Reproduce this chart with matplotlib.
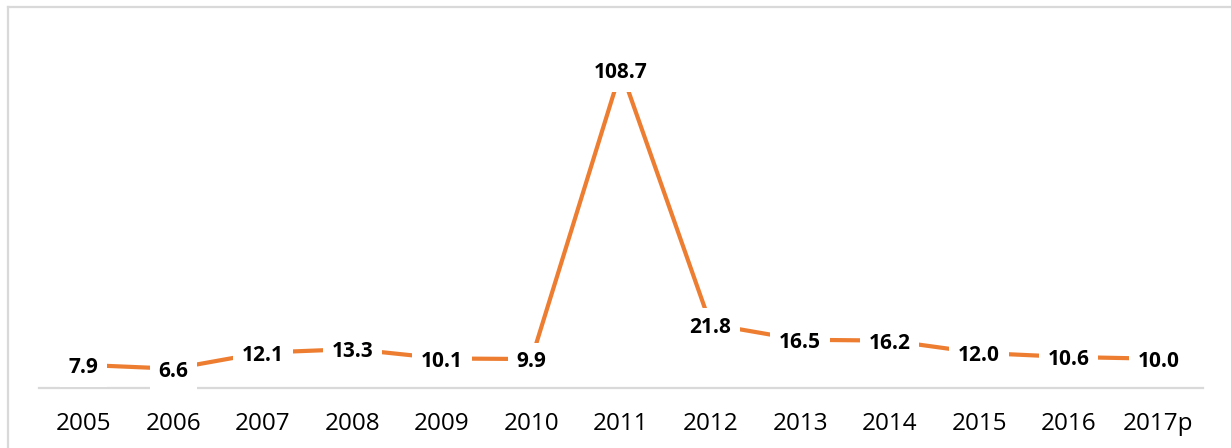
import matplotlib
matplotlib.use("Agg")
import matplotlib.pyplot as plt
from matplotlib.lines import Line2D

years = ["2005", "2006", "2007", "2008", "2009", "2010", "2011",
         "2012", "2013", "2014", "2015", "2016", "2017p"]
values = [7.9, 6.6, 12.1, 13.3, 10.1, 9.9, 108.7, 21.8, 16.5, 16.2, 12.0, 10.6, 10.0]

W, H = 1231, 448
fig = plt.figure(figsize=(W / 100, H / 100), dpi=100)
ax = fig.add_axes([39 / W, 1 - 388 / H, (1203 - 39) / W, (388 - 37) / H])

x = list(range(len(years)))
ax.plot(x, values, color="#ED7D31", linewidth=3.0, solid_capstyle="butt", zorder=2)

for xi, v in zip(x, values):
    ax.annotate(f"{v:.1f}", (xi, v), xytext=(0, -2), textcoords="offset points",
                ha="center", va="center", fontsize=15, fontweight="bold",
                family="Open Sans", color="black", zorder=5, annotation_clip=False,
                bbox=dict(boxstyle="square,pad=0.42", fc="white", ec="none"))

ax.set_xlim(-0.5, len(years) - 0.5)
ax.set_ylim(0, 120)
ax.set_xticks(x)
ax.set_xticklabels(years, fontsize=17.5, family="Open Sans", color="black")
ax.set_yticks([])
ax.tick_params(axis="x", length=0, pad=17)
for s in ["top", "right", "left"]:
    ax.spines[s].set_visible(False)
ax.spines["bottom"].set_color("#d9d9d9")
ax.spines["bottom"].set_linewidth(1.6)
ax.spines["bottom"].set_zorder(1)

# outer chart border (only top and left visible in crop)
fig.add_artist(Line2D([7.5 / W, 1], [1 - 7 / H, 1 - 7 / H], transform=fig.transFigure,
                      color="#d9d9d9", linewidth=1.6))
fig.add_artist(Line2D([7.5 / W, 7.5 / W], [0, 1 - 7 / H], transform=fig.transFigure,
                      color="#d9d9d9", linewidth=1.6))

fig.savefig("out.png", dpi=100, facecolor="white")
